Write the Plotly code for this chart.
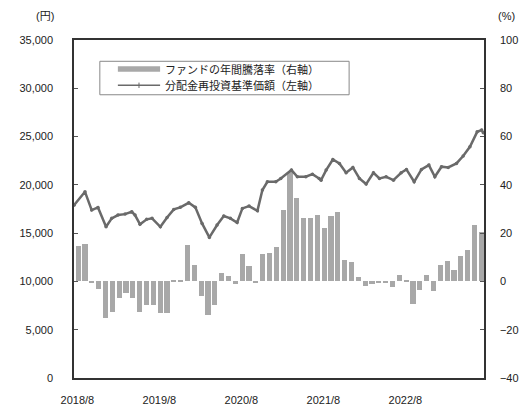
import numpy as np
import plotly.graph_objects as go

# ---- data ----
fund_return_pct = [14.5, 15.6, -0.5, -3.0, -15.0, -12.5, -6.9, -4.8, -6.9, -12.5,
                   -9.6, -9.6, -13.0, -13.0, 0.3, 0.7, 14.9, 6.9, -6.0, -14.0,
                   -9.6, 3.5, 2.1, -1.0, 11.5, 6.2, -0.3, 11.5, 11.7, 14.2,
                   29.7, 45.5, 34.4, 26.2, 26.2, 27.6, 22.2, 27.2, 28.6, 8.8,
                   7.9, 1.8, -1.8, -1.0, -0.3, -0.5, -2.3, 2.8, 0.3, -9.4,
                   -3.5, 2.5, -4.1, 6.6, 8.4, 4.6, 10.5, 13.1, 23.5, 20.4]

# months elapsed since 2018/8 (fractional) and reinvested NAV (yen)
nav_months = [0.0, 1.61, 2.59, 3.51, 4.69, 5.52, 6.44, 7.47, 8.45, 8.93,
              9.66, 10.64, 11.42, 12.64, 13.62, 14.60, 15.56, 16.79, 17.76, 18.74,
              19.81, 20.94, 21.92, 22.88, 23.87, 24.64, 25.62, 26.84, 27.57, 28.30,
              29.53, 30.26, 31.82, 32.69, 33.92, 34.89, 35.87, 36.16, 36.90, 37.88,
              38.84, 39.82, 40.81, 41.77, 42.75, 43.82, 44.70, 45.68, 46.75, 47.88,
              48.65, 49.78, 50.85, 51.93, 52.81, 53.78, 54.76, 55.97, 56.95, 57.94,
              59.00, 59.65, 59.90]
nav_values = [17900, 19280, 17390, 17660, 15660, 16530, 16870, 16970, 17210, 16870,
              15910, 16430, 16530, 15660, 16630, 17460, 17670, 18140, 17670, 16010,
              14560, 15840, 16770, 16530, 16100, 17560, 17800, 17320, 19460, 20320,
              20320, 20660, 21530, 20840, 20840, 21110, 20660, 20490, 21530, 22630,
              22220, 21250, 21800, 20660, 20080, 21250, 20660, 20840, 20490, 21250,
              21600, 20320, 21600, 22050, 20840, 21880, 21800, 22220, 22980, 23940,
              25490, 25670, 25400]

tick_labels = ["2018/8", "2019/8", "2020/8", "2021/8", "2022/8"]
tick_month_index = [0, 12, 24, 36, 48]

legend_bar = "ファンドの年間騰落率（右軸）"
legend_line = "分配金再投資基準価額（左軸）"

BAR_COLOR = "#a8a8a8"
LINE_COLOR = "#6a6a6a"

# ---- figure ----
n = len(fund_return_pct)
bar_x = np.arange(n) + 0.6

FONT = "Liberation Sans, Arial, Noto Sans CJK JP, sans-serif"
JP = "Noto Sans CJK JP, sans-serif"

fig = go.Figure()
fig.add_trace(go.Bar(
    x=bar_x, y=fund_return_pct, name=legend_bar, yaxis="y",
    width=0.75, marker=dict(color=BAR_COLOR, line=dict(width=0)),
))
fig.add_trace(go.Scatter(
    x=nav_months, y=nav_values, name=legend_line, yaxis="y2",
    mode="lines+markers",
    line=dict(color=LINE_COLOR, width=2.5),
    marker=dict(color=LINE_COLOR, size=3.5),
))

# ---- compact legend box (paper coordinates) ----
LEG_X0, LEG_X1, LEG_Y0, LEG_Y1 = 0.063, 0.671, 0.838, 0.937
SYM_X0, SYM_X1, TXT_X = 0.107, 0.210, 0.217
ROW1_Y, ROW2_Y = 0.914, 0.866
SYM_HALF_H = 0.008

shapes = [
    dict(type="rect", xref="paper", yref="paper", layer="above",
         x0=LEG_X0, x1=LEG_X1, y0=LEG_Y0, y1=LEG_Y1,
         line=dict(color="#888", width=1), fillcolor="white"),
    dict(type="rect", xref="paper", yref="paper", layer="above",
         x0=SYM_X0, x1=SYM_X1, y0=ROW1_Y - SYM_HALF_H, y1=ROW1_Y + SYM_HALF_H,
         line=dict(width=0), fillcolor=BAR_COLOR),
    dict(type="line", xref="paper", yref="paper", layer="above",
         x0=SYM_X0, x1=SYM_X1, y0=ROW2_Y, y1=ROW2_Y,
         line=dict(color=LINE_COLOR, width=1.5)),
    dict(type="line", xref="paper", yref="paper", layer="above",
         x0=(SYM_X0 + SYM_X1) / 2, x1=(SYM_X0 + SYM_X1) / 2,
         y0=ROW2_Y - 0.008, y1=ROW2_Y + 0.008,
         line=dict(color=LINE_COLOR, width=1)),
]

annotations = [
    dict(text=legend_bar, xref="paper", yref="paper", x=TXT_X, y=ROW1_Y,
         xanchor="left", yanchor="middle", showarrow=False,
         font=dict(family=JP, size=11, color="#222")),
    dict(text=legend_line, xref="paper", yref="paper", x=TXT_X, y=ROW2_Y,
         xanchor="left", yanchor="middle", showarrow=False,
         font=dict(family=JP, size=11, color="#222")),
    dict(text="(円)", xref="paper", yref="paper", x=0, xshift=-18, y=1.0, yshift=24,
         xanchor="right", yanchor="middle", showarrow=False,
         font=dict(family=FONT, size=11, color="#222")),
    dict(text="(%)", xref="paper", yref="paper", x=1.0, xshift=12, y=1.0, yshift=24,
         xanchor="left", yanchor="middle", showarrow=False,
         font=dict(family=FONT, size=11, color="#222")),
]

fig.update_layout(
    width=528, height=407,
    margin=dict(l=74, r=44, t=40, b=29),
    paper_bgcolor="white", plot_bgcolor="white",
    font=dict(family=FONT, size=11, color="#222"),
    showlegend=False,
    bargap=0,
    shapes=shapes,
    annotations=annotations,
    xaxis=dict(
        range=[0, 60], showgrid=False, zeroline=False, automargin=False,
        tickmode="array",
        tickvals=[i + 0.5 for i in tick_month_index],
        ticktext=tick_labels, ticks="", ticklabelstandoff=11,
        showline=True, linecolor="#333", linewidth=1.5, mirror=True,
        tickfont=dict(size=11, color="#222"),
    ),
    yaxis=dict(
        side="right", range=[-40, 100], dtick=20, showgrid=False, zeroline=False,
        automargin=False,
        ticks="inside", ticklen=4, tickcolor="#555",
        showline=True, linecolor="#333", linewidth=1.5,
        ticklabelstandoff=12,
        tickfont=dict(size=11, color="#222"),
    ),
    yaxis2=dict(
        side="left", overlaying="y", range=[0, 35000], dtick=5000,
        tickformat=",", showgrid=False, zeroline=False, automargin=False,
        ticks="inside", ticklen=4, tickcolor="#555",
        showline=True, linecolor="#333", linewidth=1.5,
        ticklabelstandoff=17,
        tickfont=dict(size=11, color="#222"),
    ),
)

# remove the page's default body margin so the 528x407 figure fills the window exactly
fig.write_html(
    "out.html",
    config={"displayModeBar": False},
    post_script="document.body.style.margin='0';document.documentElement.style.overflow='hidden';",
)
